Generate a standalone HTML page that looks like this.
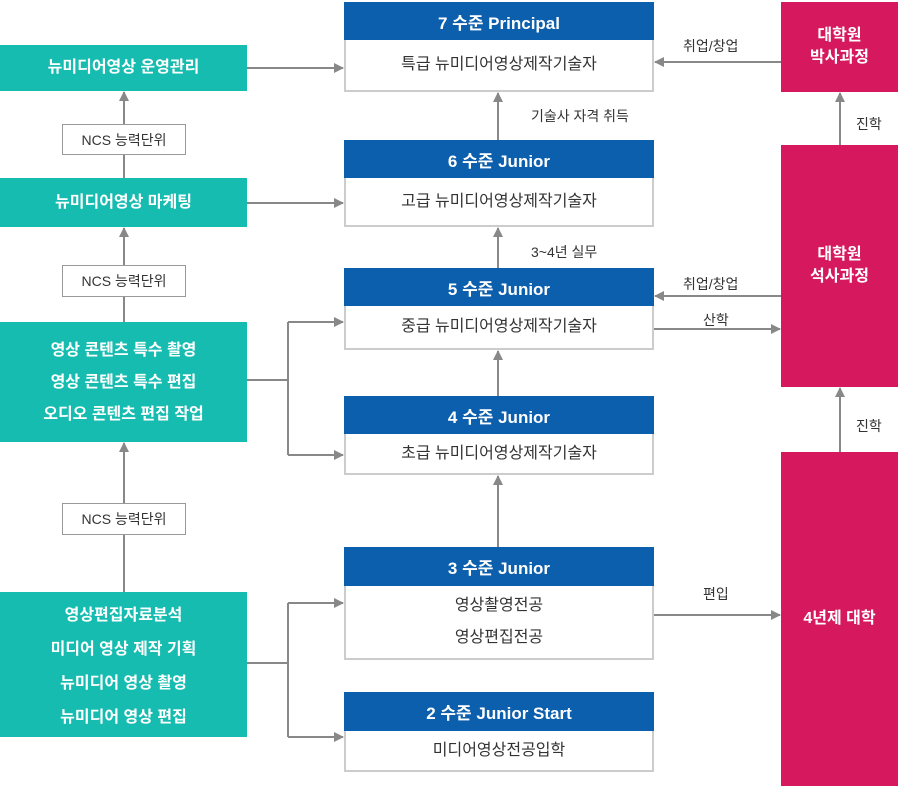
<!DOCTYPE html>
<html><head><meta charset="utf-8"><style>
body{margin:0;width:900px;height:786px;background:#fff;position:relative;overflow:hidden;font-family:"Liberation Sans","Noto Sans CJK KR",sans-serif}
.a{position:absolute;box-sizing:border-box;display:flex;align-items:center;justify-content:center;text-align:center}
.t{background:#16bcb0;color:#fff;font-weight:bold;font-size:16px;line-height:32px;flex-direction:column}
.n{background:#fff;border:1px solid #999;color:#333;font-size:14px}
.h{background:#0b5fad;color:#fff;font-weight:bold;font-size:17px}
.b{background:#fff;border:2px solid #ccc;border-top:none;color:#333;font-size:16px;flex-direction:column;line-height:32px}
.m{background:#d6195e;color:#fff;font-weight:bold;font-size:16px;line-height:22px}
.l{position:absolute;font-size:14px;color:#333;white-space:nowrap}
</style></head><body>
<svg width="900" height="786" style="position:absolute;left:0;top:0">
<defs><marker id="ar" markerWidth="10" markerHeight="10" refX="9" refY="5" orient="auto" markerUnits="userSpaceOnUse"><path d="M0,0 L10,5 L0,10z" fill="#888"/></marker></defs>
<g stroke="#888" stroke-width="2" fill="none">
<path d="M247,68H343" marker-end="url(#ar)"/>
<path d="M247,203H343" marker-end="url(#ar)"/>
<path d="M247,380H288M288,322V455M288,322H343" marker-end="url(#ar)"/>
<path d="M288,455H343" marker-end="url(#ar)"/>
<path d="M247,663H288M288,603V737M288,603H343" marker-end="url(#ar)"/>
<path d="M288,737H343" marker-end="url(#ar)"/>
<path d="M124,124V92" marker-end="url(#ar)"/>
<path d="M124,178V155"/>
<path d="M124,265V228" marker-end="url(#ar)"/>
<path d="M124,322V297"/>
<path d="M124,503V443" marker-end="url(#ar)"/>
<path d="M124,592V535"/>
<path d="M498,140V93" marker-end="url(#ar)"/>
<path d="M498,268V228" marker-end="url(#ar)"/>
<path d="M498,396V351" marker-end="url(#ar)"/>
<path d="M498,547V476" marker-end="url(#ar)"/>
<path d="M781,62H655" marker-end="url(#ar)"/>
<path d="M781,296H655" marker-end="url(#ar)"/>
<path d="M654,329H780" marker-end="url(#ar)"/>
<path d="M654,615H780" marker-end="url(#ar)"/>
<path d="M840,145V93" marker-end="url(#ar)"/>
<path d="M840,452V388" marker-end="url(#ar)"/>
</g></svg>

<div class="a t" style="left:0;top:45px;width:247px;height:46px">뉴미디어영상 운영관리</div>
<div class="a n" style="left:62px;top:124px;width:124px;height:31px">NCS 능력단위</div>
<div class="a t" style="left:0;top:178px;width:247px;height:49px">뉴미디어영상 마케팅</div>
<div class="a n" style="left:62px;top:265px;width:124px;height:32px">NCS 능력단위</div>
<div class="a t" style="left:0;top:322px;width:247px;height:120px;padding-top:2px"><div>영상 콘텐츠 특수 촬영</div><div>영상 콘텐츠 특수 편집</div><div>오디오 콘텐츠 편집 작업</div></div>
<div class="a n" style="left:62px;top:503px;width:124px;height:32px">NCS 능력단위</div>
<div class="a t" style="left:0;top:592px;width:247px;height:145px;line-height:34px;padding-top:4px"><div>영상편집자료분석</div><div>미디어 영상 제작 기획</div><div>뉴미디어 영상 촬영</div><div>뉴미디어 영상 편집</div></div>

<div class="a h" style="left:344px;top:2px;width:310px;height:38px">7 수준 Principal</div>
<div class="a b" style="left:344px;top:40px;width:310px;height:52px">특급 뉴미디어영상제작기술자</div>
<div class="a h" style="left:344px;top:140px;width:310px;height:38px">6 수준 Junior</div>
<div class="a b" style="left:344px;top:178px;width:310px;height:49px">고급 뉴미디어영상제작기술자</div>
<div class="a h" style="left:344px;top:268px;width:310px;height:38px">5 수준 Junior</div>
<div class="a b" style="left:344px;top:306px;width:310px;height:44px">중급 뉴미디어영상제작기술자</div>
<div class="a h" style="left:344px;top:396px;width:310px;height:38px">4 수준 Junior</div>
<div class="a b" style="left:344px;top:434px;width:310px;height:41px">초급 뉴미디어영상제작기술자</div>
<div class="a h" style="left:344px;top:547px;width:310px;height:39px">3 수준 Junior</div>
<div class="a b" style="left:344px;top:586px;width:310px;height:74px"><div>영상촬영전공</div><div>영상편집전공</div></div>
<div class="a h" style="left:344px;top:692px;width:310px;height:39px">2 수준 Junior Start</div>
<div class="a b" style="left:344px;top:731px;width:310px;height:41px">미디어영상전공입학</div>

<div class="a m" style="left:781px;top:2px;width:117px;height:90px">대학원<br>박사과정</div>
<div class="a m" style="left:781px;top:145px;width:117px;height:242px">대학원<br>석사과정</div>
<div class="a m" style="left:781px;top:452px;width:117px;height:334px">4년제 대학</div>

<div class="l" style="left:531px;top:106px">기술사 자격 취득</div>
<div class="l" style="left:531px;top:242px">3~4년 실무</div>
<div class="l" style="left:683px;top:36px">취업/창업</div>
<div class="l" style="left:683px;top:274px">취업/창업</div>
<div class="l" style="left:703px;top:310px">산학</div>
<div class="l" style="left:703px;top:584px">편입</div>
<div class="l" style="left:856px;top:114px">진학</div>
<div class="l" style="left:856px;top:416px">진학</div>
</body></html>
